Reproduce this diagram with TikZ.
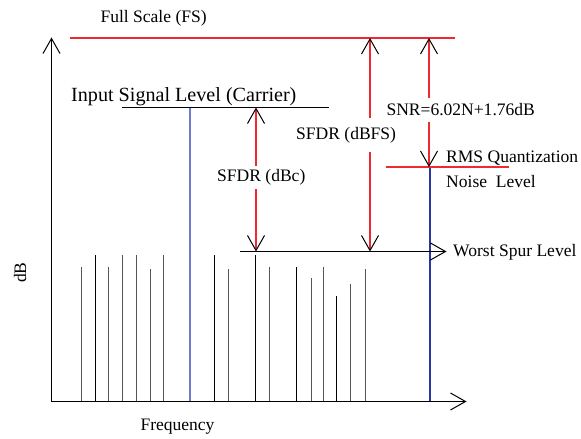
\documentclass[tikz,border=0pt]{standalone}
\usepackage{fontspec}
\setmainfont{Liberation Serif}
\usetikzlibrary{arrows.meta}
\definecolor{fsred}{RGB}{240,40,50}
\definecolor{carrierblue}{RGB}{110,125,205}
\definecolor{noiseblue}{RGB}{40,55,165}
\definecolor{spurgray}{RGB}{85,85,85}
\begin{document}
\begin{tikzpicture}[x=1bp,y=-1bp,
  line width=1bp,
  tipV/.tip={Straight Barb[length=15bp,width=17bp,line width=1bp]},
  tipK/.tip={Straight Barb[length=15bp,width=17bp,line width=1bp,color=black]},
  oneway/.style={-tipV},
  twoway/.style={tipK-tipK},
  redline/.style={draw=fsred, line width=1.5bp},
  blueline/.style={line width=1.3bp},
  lbl/.style={font=\fontsize{17.6}{20}\selectfont, inner sep=0pt, anchor=base west},
  biglbl/.style={font=\fontsize{20.2}{23}\selectfont, inner sep=0pt, anchor=base west},
  gaplbl/.style={lbl, fill=white, inner xsep=0pt},
  spurblack/.style={draw=black},
  spurgrey/.style={draw=spurgray}]
\useasboundingbox (0,0) rectangle (581,439);

% reference points
\coordinate (O) at (51.5,401.5);
\coordinate (ytop) at (51.5,37.5);
\coordinate (xend) at (466.5,401.5);
\coordinate (fsL) at (70,38);
\coordinate (fsR) at (455,38);
\coordinate (carL) at (122,107.5);
\coordinate (carR) at (329,107.5);
\coordinate (carT) at (190,107.5);
\coordinate (carB) at (190,401);
\coordinate (wsL) at (240,251.5);
\coordinate (wsR) at (446.5,251.5);
\coordinate (nL) at (386,167);
\coordinate (nR) at (509,167);
\coordinate (nT) at (430,167);
\coordinate (nB) at (430,401);
\coordinate (dbcT) at (256,107.5);
\coordinate (dbcB) at (256,251.5);
\coordinate (dbfsT) at (370,38);
\coordinate (dbfsB) at (370,251.5);
\coordinate (snrT) at (429,38);
\coordinate (snrB) at (429,167);

% spurs: x, top, style
\foreach \x/\t/\s in {81/267/spurgrey, 95/255/spurblack, 108/267/spurgrey,
    122/255/spurgrey, 136/255/spurgrey, 150/269/spurgrey, 163/255/spurgrey,
    214/255/spurblack, 228/269/spurgrey, 255/255/spurblack, 269/267/spurgrey,
    296/267/spurblack, 311/277/spurgrey, 323/267/spurgrey, 336/295/spurblack,
    350/283/spurgrey, 365/269/spurgrey}
  \draw[\s] (\x+0.5,401.5) -- (\x+0.5,\t+0.5);

% carrier and noise floor
\draw[blueline, carrierblue] (carB) -- (carT);
\draw[blueline, noiseblue] (nB) -- (nT);
\draw[black] (carL) -- (carR);
\draw[redline] (fsL) -- (fsR);
\draw[redline] (nL) -- (nR);

% axes
\draw[oneway] (O) -- (ytop);
\draw[oneway] (O) -- (xend);

% worst spur level
\draw[oneway] (wsL) -- (wsR);

% dimension arrows
\draw[redline, twoway] (dbcT) -- (dbcB);
\draw[redline, twoway] (dbfsT) -- (dbfsB);
\draw[redline, twoway] (snrT) -- (snrB);

% labels
\node[lbl] (fs) at (100,22.7) {Full Scale (FS)};
\node[biglbl] (isl) at (70.7,101.7) {Input Signal Level (Carrier)};
\node[gaplbl, inner ysep=4pt] (sdbc) at (216.7,181.7) {SFDR (dBc)};
\node[gaplbl, inner ysep=9pt] (sdbfs) at (295.7,139.3) {SFDR (dBFS)};
\node[gaplbl, inner ysep=6pt] (snr) at (386,115.7) {SNR=6.02N+1.76dB};
\node[lbl] (rms) at (445.7,162.7) {RMS Quantization};
\node[lbl] (nsl) at (445.7,187.7) {Noise\ \ Level};
\node[lbl] (wsl) at (452.7,256.7) {Worst Spur Level};
\node[lbl] (freq) at (140,430.7) {Frequency};
\node[lbl, rotate=90] (db) at (26,283.3) {dB};
\end{tikzpicture}
\end{document}
